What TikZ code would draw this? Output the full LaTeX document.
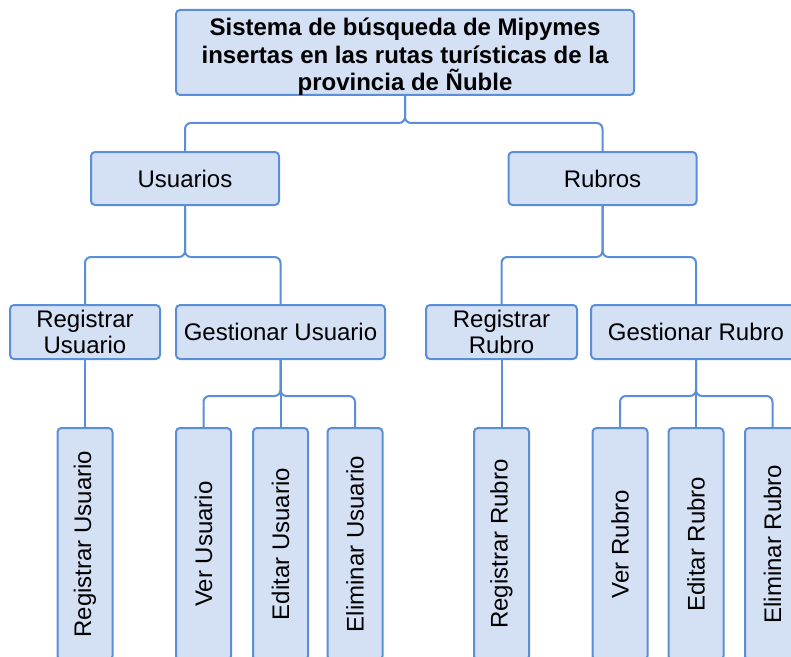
\documentclass[tikz,border=0pt]{standalone}
\usepackage{fontspec}
\setmainfont{Liberation Sans}
\usepackage{tikz}
\usetikzlibrary{positioning,calc}
\definecolor{cajafill}{HTML}{D4E0F4}
\definecolor{cajaline}{HTML}{5B8ED8}
\tikzset{
  caja/.style={rounded corners=3pt, draw=cajaline, line width=1.5pt,
               fill=cajafill, align=center, inner sep=0pt,
               font=\fontsize{18}{19}\selectfont},
  hoja/.style={caja, rotate=90, minimum width=174pt, minimum height=41.25pt},
  conn/.style={draw=cajaline, line width=1.5pt, rounded corners=4.5pt},
}

\begin{document}
\begin{tikzpicture}[x=0.75pt, y=-0.75pt]
\useasboundingbox (0,0) rectangle (791,656);
\clip (0,0) rectangle (791,656);

% ---------------- raiz ----------------------------------------------------
\node[caja, minimum width=343.5pt, minimum height=63.75pt,
      font=\fontsize{18}{20}\selectfont\bfseries] at (405,52.5) (sis)
   {\raisebox{-3pt}[\height][\depth]{\shortstack{Sistema de búsqueda de Mipymes\\[1pt]
    insertas en las rutas turísticas de la\\[1pt]
    provincia de Ñuble}}};

% ---------------- segundo nivel -------------------------------------------
\node[caja, minimum width=141pt, minimum height=39.75pt] at (185,178.5) (usr)
   {Usuarios};
\node[caja, minimum width=141pt, minimum height=39.75pt] at (602.5,178.5) (rub)
   {Rubros};

% ---------------- tercer nivel --------------------------------------------
\node[caja, minimum width=112.5pt, minimum height=40.5pt] at (85,332) (regU)
   {Registrar\\Usuario};
\node[caja, minimum width=156.75pt, minimum height=40.5pt] at (280.5,332) (gesU)
   {Gestionar Usuario};
\node[caja, minimum width=113.25pt, minimum height=40.5pt] at (501.5,332) (regR)
   {Registrar\\Rubro};
\node[caja, minimum width=157.5pt, minimum height=40.5pt] at (696,332) (gesR)
   {Gestionar Rubro};

% ---------------- hojas ---------------------------------------------------
\node[hoja] at (85,544) (hRegU) {Registrar Usuario};
\node[hoja] at (203.5,544) (hVerU) {Ver Usuario};
\node[hoja] at (280.5,544) (hEdiU) {Editar Usuario};
\node[hoja] at (355,544) (hEliU) {Eliminar Usuario};
\node[hoja] at (501.5,544) (hRegR) {Registrar Rubro};
\node[hoja] at (620,544) (hVerR) {Ver Rubro};
\node[hoja] at (696,544) (hEdiR) {Editar Rubro};
\node[hoja] at (772.5,544) (hEliR) {Eliminar Rubro};

% ---------------- conectores ----------------------------------------------
\coordinate (b0) at (0,123);
\coordinate (b1) at (0,257);
\coordinate (b2) at (0,396);

\foreach \c in {usr,rub}
  \draw[conn] (sis.south) -- (sis.south |- b0) -| (\c.north);
\foreach \c in {regU,gesU}
  \draw[conn] (usr.south) -- (usr.south |- b1) -| (\c.north);
\foreach \c in {regR,gesR}
  \draw[conn] (rub.south) -- (rub.south |- b1) -| (\c.north);
\draw[conn] (regU.south) -- (hRegU.east);
\draw[conn] (regR.south) -- (hRegR.east);
\foreach \c in {hVerU,hEdiU,hEliU}
  \draw[conn] (gesU.south) -- (gesU.south |- b2) -| (\c.east);
\foreach \c in {hVerR,hEdiR,hEliR}
  \draw[conn] (gesR.south) -- (gesR.south |- b2) -| (\c.east);
\end{tikzpicture}
\end{document}
